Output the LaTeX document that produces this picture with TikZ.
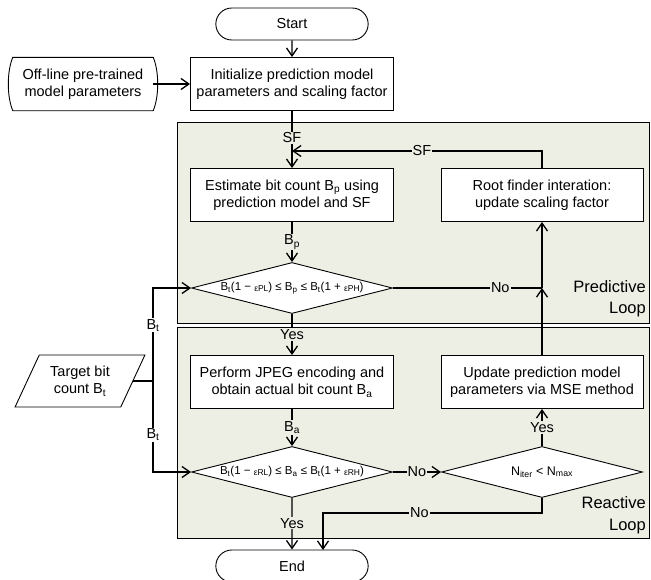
\documentclass[tikz,border=0pt]{standalone}
\usepackage{fontspec}
\setmainfont{Liberation Sans}
\usetikzlibrary{shapes.geometric,shapes.misc,arrows.meta}
\definecolor{loopbg}{RGB}{237,238,228}
\newcommand{\epsub}[1]{\raisebox{-1pt}{\fontsize{8.5}{9}\selectfont ε#1}}

\begin{document}
\begin{tikzpicture}[x=1pt,y=-1pt,
    every node/.style={font=\fontsize{14.5}{17.5}\selectfont},
    box/.style={draw,rectangle,fill=white,line width=0.9pt,minimum width=203pt,minimum height=53pt,align=center,inner sep=2pt},
    term/.style={draw,rounded rectangle,fill=white,line width=0.9pt,minimum width=159pt,minimum height=32pt},
    test/.style={draw,diamond,fill=white,line width=0.9pt,minimum width=201pt,minimum height=51pt,inner sep=0pt,aspect=4,font=\fontsize{11.5}{14}\selectfont},
    flow/.style={line width=1.3pt,-{Straight Barb[length=8pt,width=11pt]}},
    lbl/.style={fill=loopbg,inner sep=1pt},
    panel/.style={draw,fill=loopbg,line width=0.9pt}]
    \useasboundingbox (0,0) rectangle (651,579);

    % the two loops
    \draw[panel] (177,122) rectangle (649,323);
    \draw[panel] (177,327) rectangle (649,538);
    \node[anchor=east,align=right,inner sep=0pt,font=\fontsize{16.5}{21}\selectfont] (predlbl) at (646,299) {Predictive\\Loop};
    \node[anchor=east,align=right,inner sep=0pt,font=\fontsize{16.5}{22}\selectfont] (reactlbl) at (646,515) {Reactive\\Loop};

    \node[term] (start) at (292,24) {Start};
    \node[box] (init) at (292,84) {Initialize prediction model\\parameters and scaling factor};
    \node[align=center,minimum width=140pt,minimum height=53pt] (offline) at (83,84) {Off-line pre-trained\\model parameters};
    \draw[line width=0.9pt] (offline.north west) .. controls +(-6,14) and +(-6,-14) .. (offline.south west)
        -- (offline.south east) .. controls +(6,-14) and +(6,14) .. (offline.north east) -- cycle;

    \node[box] (est) at (292,195) {Estimate bit count B\textsubscript{p} using\\prediction model and SF};
    \node[box,minimum width=202pt] (root) at (542,195) {Root finder interation:\\update scaling factor};
    \node[test] (chk1) at (292,288) {B\textsubscript{t}(1 − \epsub{PL}) ≤ B\textsubscript{p} ≤ B\textsubscript{t}(1 + \epsub{PH})};

    \node[draw,fill=white,trapezium,trapezium left angle=62,trapezium right angle=118,trapezium stretches=true,
        minimum width=130pt,minimum height=52pt,line width=0.9pt,align=center] (target) at (80,381) {Target bit\\count B\textsubscript{t}};
    \node[box] (perf) at (292,382) {Perform JPEG encoding and\\obtain actual bit count B\textsubscript{a}};
    \node[box,minimum width=202pt] (upd) at (542,382) {Update prediction model\\parameters via MSE method};
    \node[test] (chk2) at (292,472) {B\textsubscript{t}(1 − \epsub{RL}) ≤ B\textsubscript{a} ≤ B\textsubscript{t}(1 + \epsub{RH})};
    \node[test,font=\fontsize{12.5}{15}\selectfont] (iter) at (542,472) {N\textsubscript{iter} < N\textsubscript{max}};
    \node[term] (end) at (292,566) {End};

    \coordinate (sfin) at (292,151);
    \coordinate (nojoin) at (542,288);
    \coordinate (btmid) at (153,381);
    \coordinate (bttop) at (153,288);
    \coordinate (btbot) at (153,472);
    \coordinate (nobend) at (542,513);
    \coordinate (endin) at (323,550);

    \draw[flow] (start) -- (init);
    \draw[flow] (offline.east) -- (init);
    \draw[flow] (init) -- node[lbl,pos=0.47]{SF} (est);
    \draw[flow] (root) |- node[lbl,pos=0.74]{SF} (sfin);
    \draw[flow] (est) -- node[lbl]{B\textsubscript{p}} (chk1);
    \draw[line width=1.3pt] (chk1) -- node[lbl,pos=0.72]{No} (nojoin);
    \draw[flow] (nojoin) -- (root);
    \draw[flow] (upd) -- (nojoin);
    \draw[flow] (chk1) -- node[lbl]{Yes} (perf);

    \draw[line width=1.3pt] (target) -- (btmid);
    \draw[flow] (btmid) -- node[lbl,fill=white,pos=0.6]{B\textsubscript{t}} (bttop) -- (chk1);
    \draw[flow] (btmid) -- node[lbl,fill=white,pos=0.59]{B\textsubscript{t}} (btbot) -- (chk2);

    \draw[flow] (perf) -- node[lbl]{B\textsubscript{a}} (chk2);
    \draw[flow] (chk2) -- node[lbl]{No} (iter);
    \draw[flow] (iter) -- node[lbl]{Yes} (upd);
    \draw[flow] (iter) -- (nobend) -| node[lbl,pos=0.28]{No} (endin);
    \draw[flow] (chk2) -- node[lbl,pos=0.49]{Yes} (end);
\end{tikzpicture}
\end{document}
